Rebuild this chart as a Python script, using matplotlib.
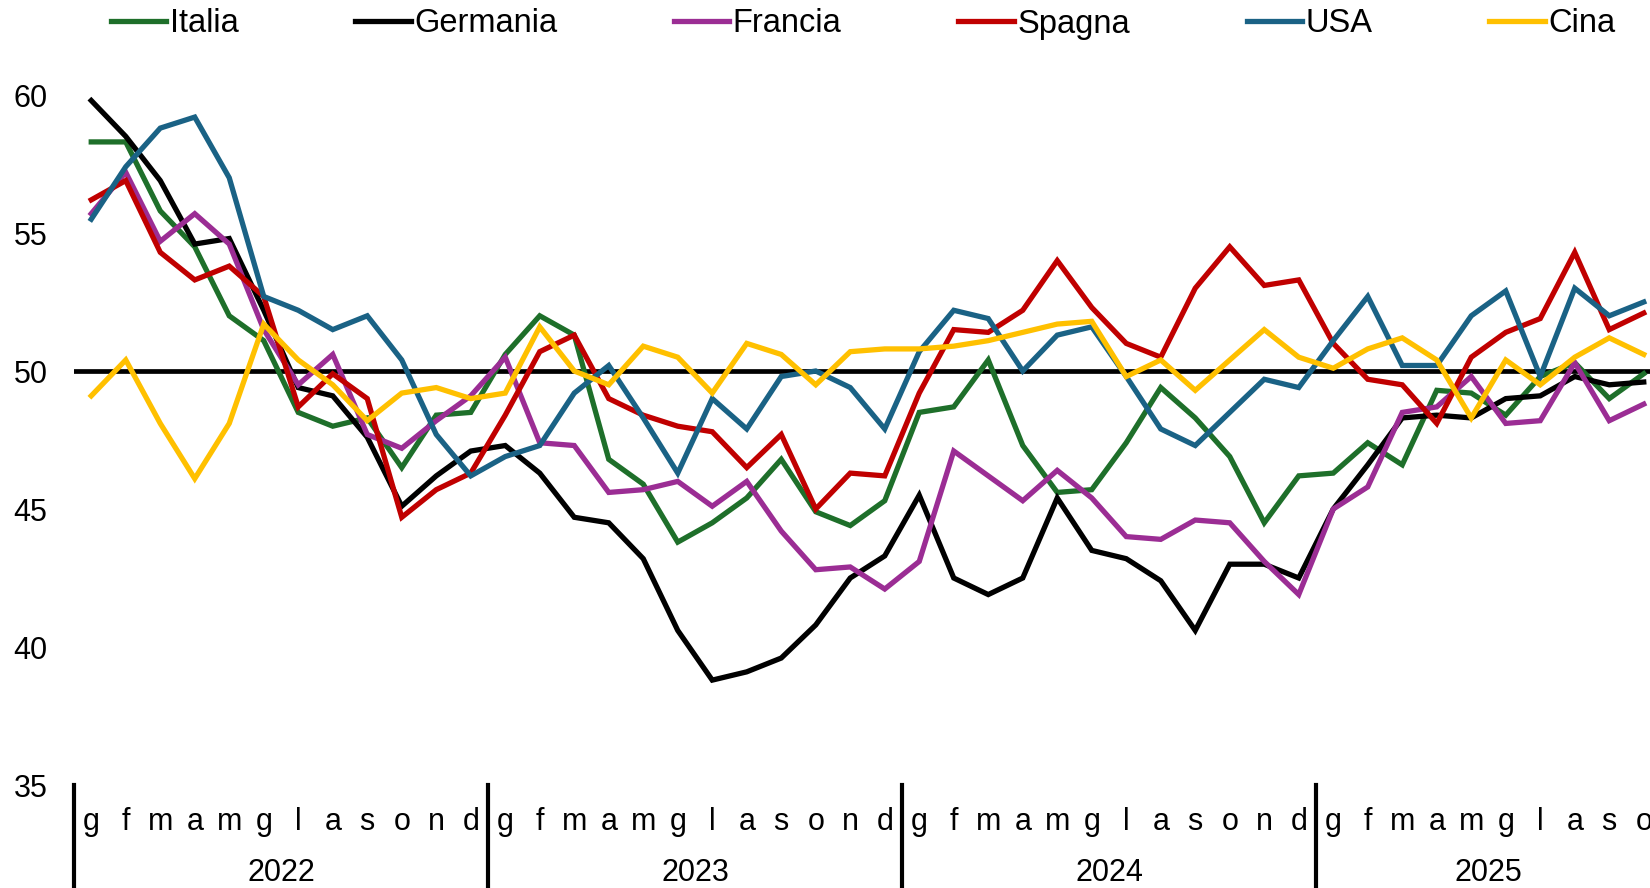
import matplotlib
matplotlib.use('Agg')
import matplotlib.pyplot as plt
import matplotlib.transforms as mtransforms

plt.rcParams['font.family'] = ['Liberation Sans', 'DejaVu Sans']

months = ['g', 'f', 'm', 'a', 'm', 'g', 'l', 'a', 's', 'o', 'n', 'd']
years = ['2022', '2023', '2024', '2025']
n_months_per_year = [12, 12, 12, 10]

italia = [58.3, 58.3, 55.8, 54.5, 52.0, 51.1, 48.5, 48.0, 48.3, 46.5, 48.4, 48.5,
          50.6, 52.0, 51.3, 46.8, 45.9, 43.8, 44.5, 45.4, 46.8, 44.9, 44.4, 45.3,
          48.5, 48.7, 50.4, 47.3, 45.6, 45.7, 47.4, 49.4, 48.3, 46.9, 44.5, 46.2,
          46.3, 47.4, 46.6, 49.3, 49.2, 48.4, 49.8, 50.3, 49.0, 49.9]
germania = [59.8, 58.5, 56.9, 54.6, 54.8, 52.2, 49.4, 49.1, 47.6, 45.1, 46.2, 47.1,
            47.3, 46.3, 44.7, 44.5, 43.2, 40.6, 38.8, 39.1, 39.6, 40.8, 42.5, 43.3,
            45.5, 42.5, 41.9, 42.5, 45.4, 43.5, 43.2, 42.4, 40.6, 43.0, 43.0, 42.5,
            45.0, 46.6, 48.3, 48.4, 48.3, 49.0, 49.1, 49.8, 49.5, 49.6]
francia = [55.7, 57.2, 54.7, 55.7, 54.6, 51.5, 49.5, 50.6, 47.7, 47.2, 48.2, 49.1,
           50.5, 47.4, 47.3, 45.6, 45.7, 46.0, 45.1, 46.0, 44.2, 42.8, 42.9, 42.1,
           43.1, 47.1, 46.2, 45.3, 46.4, 45.4, 44.0, 43.9, 44.6, 44.5, 43.1, 41.9,
           45.0, 45.8, 48.5, 48.7, 49.8, 48.1, 48.2, 50.3, 48.2, 48.8]
spagna = [56.2, 56.9, 54.3, 53.3, 53.8, 52.7, 48.7, 49.9, 49.0, 44.7, 45.7, 46.3,
          48.4, 50.7, 51.3, 49.0, 48.4, 48.0, 47.8, 46.5, 47.7, 45.0, 46.3, 46.2,
          49.2, 51.5, 51.4, 52.2, 54.0, 52.3, 51.0, 50.5, 53.0, 54.5, 53.1, 53.3,
          51.0, 49.7, 49.5, 48.1, 50.5, 51.4, 51.9, 54.3, 51.5, 52.1]
usa = [55.5, 57.4, 58.8, 59.2, 57.0, 52.7, 52.2, 51.5, 52.0, 50.4, 47.7, 46.2,
       46.9, 47.3, 49.2, 50.2, 48.3, 46.3, 49.0, 47.9, 49.8, 50.0, 49.4, 47.9,
       50.7, 52.2, 51.9, 50.0, 51.3, 51.6, 49.8, 47.9, 47.3, 48.5, 49.7, 49.4,
       51.1, 52.7, 50.2, 50.2, 52.0, 52.9, 49.8, 53.0, 52.0, 52.5]
cina = [49.1, 50.4, 48.1, 46.1, 48.1, 51.7, 50.4, 49.5, 48.2, 49.2, 49.4, 49.0,
        49.2, 51.6, 50.0, 49.5, 50.9, 50.5, 49.2, 51.0, 50.6, 49.5, 50.7, 50.8,
        50.8, 50.9, 51.1, 51.4, 51.7, 51.8, 49.8, 50.4, 49.3, 50.4, 51.5, 50.5,
        50.1, 50.8, 51.2, 50.4, 48.3, 50.4, 49.5, 50.5, 51.2, 50.6]

series = [('Italia', italia, '#1e6f2a'),
          ('Germania', germania, '#000000'),
          ('Francia', francia, '#9b2d94'),
          ('Spagna', spagna, '#c00000'),
          ('USA', usa, '#1a6285'),
          ('Cina', cina, '#ffc000')]

FS = 22

fig = plt.figure(figsize=(16.5, 8.88), dpi=100)
ax = fig.add_axes([74 / 1650, 1 - 785 / 888, 1587 / 1650, 690 / 888])

x = list(range(sum(n_months_per_year)))
ax.axhline(50, color='black', lw=3.4, zorder=1)
for name, vals, col in series:
    ax.plot(x, vals, color=col, lw=3.8, label=name, zorder=2, solid_joinstyle='miter')

ax.set_xlim(-0.5, len(x) - 0.5)
ax.set_ylim(35, 60)
ax.set_yticks([35, 40, 45, 50, 55, 60])
ax.tick_params(axis='y', length=0, pad=19, labelsize=FS)
ax.set_xticks([])
for s in ax.spines.values():
    s.set_visible(False)

# month and year labels under the plot
trans = mtransforms.blended_transform_factory(ax.transData, fig.transFigure)
pos = 0
for yr, n in zip(years, n_months_per_year):
    for k in range(n):
        ax.text(pos + k, 1 - 830 / 888, months[k], transform=trans,
                ha='center', va='baseline', fontsize=FS)
    ax.text(pos + (n - 1) / 2, 1 - 881 / 888, yr, transform=trans,
            ha='center', va='baseline', fontsize=FS)
    ax.plot([pos - 0.5, pos - 0.5], [0, 1 - 785 / 888], transform=trans,
            color='black', lw=3, clip_on=False)
    pos += n

fig.legend(loc='center', bbox_to_anchor=(0.523, 1 - 24 / 888), ncol=6, frameon=False,
           fontsize=23.5, handlelength=1.7, handletextpad=0.1, columnspacing=3.58)

fig.savefig('out.png', dpi=100)
